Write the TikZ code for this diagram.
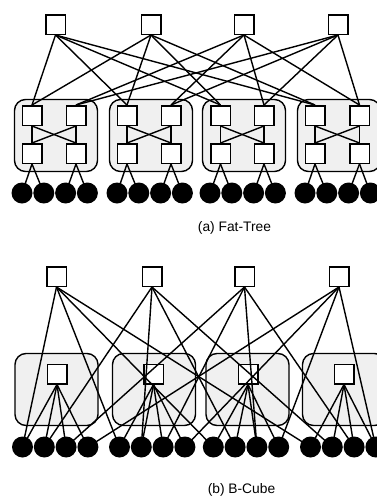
\documentclass[tikz,border=0pt]{standalone}
\usepackage{fontspec}
\setmainfont{Liberation Sans}
\pgfdeclarelayer{boxes}
\pgfdeclarelayer{links}
\pgfsetlayers{boxes,links,main}
\begin{document}
\begin{tikzpicture}[x=1pt,y=-1pt,
  sw/.style={draw, fill=white, line width=1.5pt, minimum size=19.5pt, inner sep=0pt},
  host/.style={circle, fill=black, minimum size=21pt, inner sep=0pt},
  grp/.style={draw, fill=gray!12, rounded corners=11pt, line width=1.4pt, minimum width=83pt, minimum height=72pt, inner sep=0pt},
  link/.style={line width=1.4pt},
  captext/.style={font=\fontsize{13.8}{16}\selectfont, inner sep=0pt}]
\clip (0,0) rectangle (377,499);
% ---------------- (a) Fat-Tree ----------------
\foreach \i/\x in {1/55.5,2/151,3/244,4/338}
  \node[sw] (fc\i) at (\x,24.5) {};
\foreach \p/\x/\a/\b/\h in {1/56/32/76/22, 2/151/127/171/117, 3/244/220.5/264/210, 4/339/315/359.5/305} {
  \begin{pgfonlayer}{boxes}
    \node[grp] (fp\p) at (\x,135.5) {};
  \end{pgfonlayer}
  \node[sw] (fa\p-1) at (\a,115.5) {};
  \node[sw] (fa\p-2) at (\b,115.5) {};
  \node[sw] (fe\p-1) at (\a,153.5) {};
  \node[sw] (fe\p-2) at (\b,153.5) {};
  \foreach \j in {1,2,3,4}
    \node[host] (fh\p-\j) at ({\h+21.8*(\j-1)},193) {};
}
\begin{pgfonlayer}{links}
  \foreach \p in {1,2,3,4} {
    \draw[link] (fc1.south) -- (fa\p-1.north);
    \draw[link] (fc2.south) -- (fa\p-1.north);
    \draw[link] (fc3.south) -- (fa\p-2.north);
    \draw[link] (fc4.south) -- (fa\p-2.north);
    \draw[link] (fa\p-1.south) -- (fe\p-1.north);
    \draw[link] (fa\p-2.south) -- (fe\p-2.north);
    \draw[link] (fa\p-1.south) -- (fe\p-2.north);
    \draw[link] (fa\p-2.south) -- (fe\p-1.north);
    \draw[link] (fe\p-1.south) -- (fh\p-1.center);
    \draw[link] (fe\p-1.south) -- (fh\p-2.center);
    \draw[link] (fe\p-2.south) -- (fh\p-3.center);
    \draw[link] (fe\p-2.south) -- (fh\p-4.center);
  }
\end{pgfonlayer}
\node[captext] (capa) at (234.5,228) {(a) Fat-Tree};
% ---------------- (b) B-Cube ----------------
\foreach \i/\x in {1/56.5,2/152,3/244.5,4/339}
  \node[sw] (bt\i) at (\x,276.5) {};
\foreach \g/\x/\s/\h in {1/56.5/57/22.5, 2/154/153.5/119.5, 3/247.5/248/213.3, 4/344/344/310.5} {
  \begin{pgfonlayer}{boxes}
    \node[grp] (bp\g) at (\x,389.5) {};
    \node[sw] (bs\g) at (\s,374) {};
  \end{pgfonlayer}
  \foreach \j in {1,2,3,4}
    \node[host] (bh\g-\j) at ({\h+21.8*(\j-1)},447) {};
}
\begin{pgfonlayer}{links}
  \foreach \g in {1,2,3,4} {
    \foreach \j in {1,2,3,4} {
      \draw[link] (bs\g.south) -- (bh\g-\j.center);
      \draw[link] (bt\j.south) -- (bh\g-\j.center);
    }
  }
\end{pgfonlayer}
\node[captext] (capb) at (241.5,489.5) {(b) B-Cube};
\end{tikzpicture}
\end{document}
